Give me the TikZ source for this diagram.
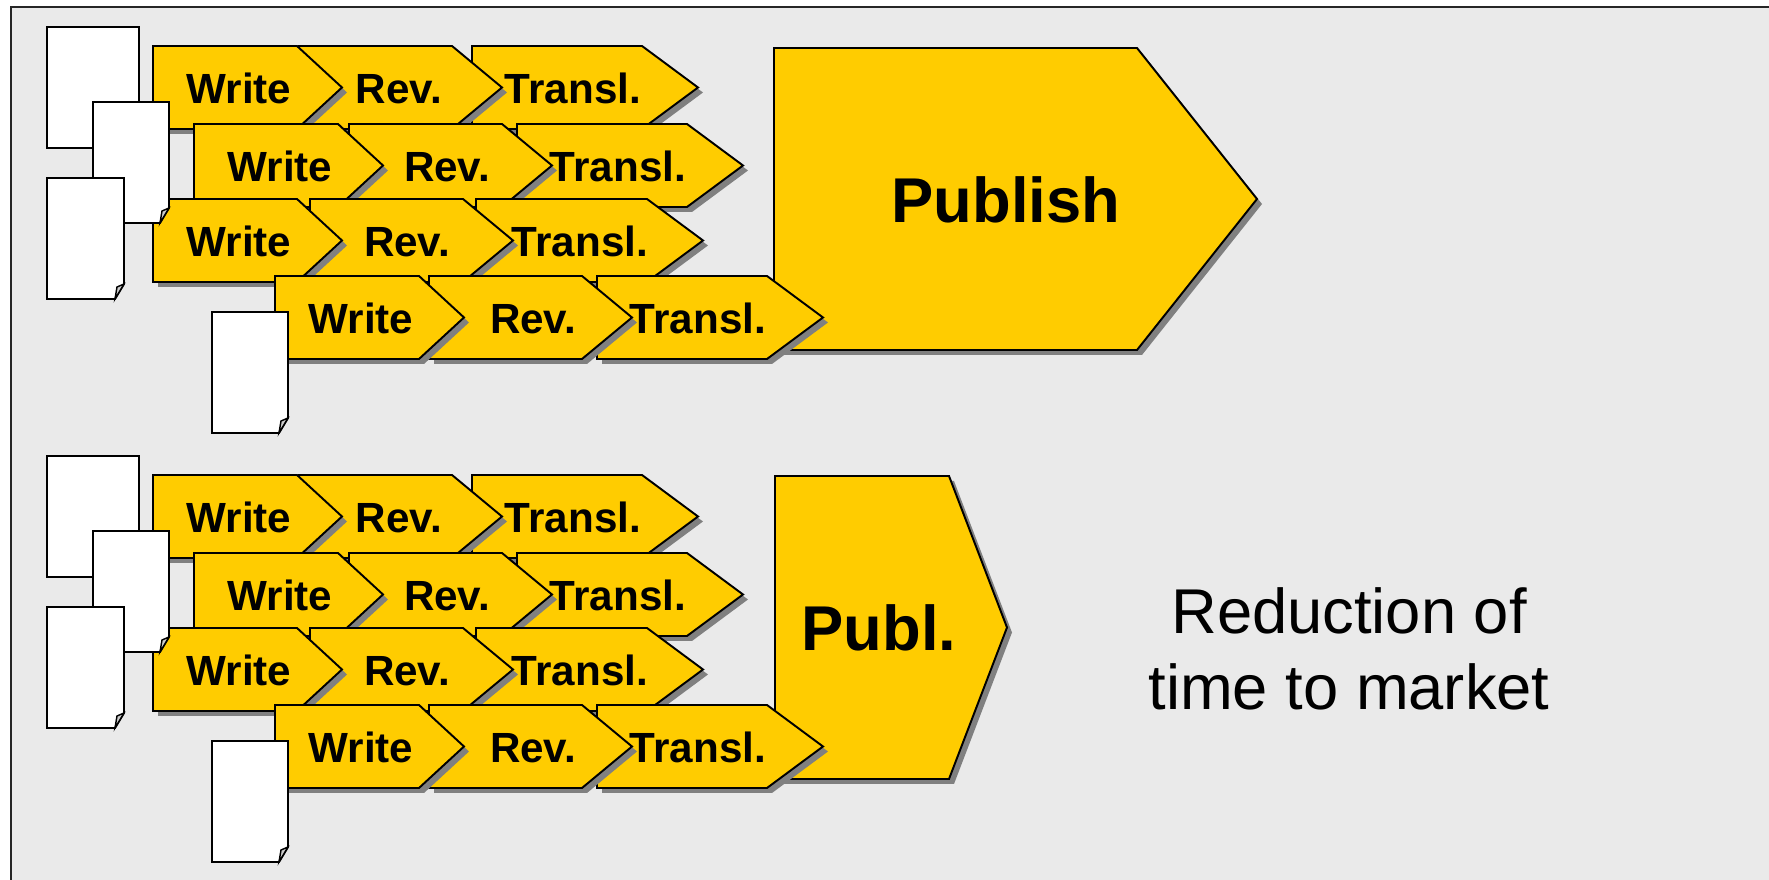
\documentclass[tikz,border=0pt]{standalone}
\usepackage{fontspec}
\setmainfont{Liberation Sans}
\usepackage{tikz}
\definecolor{stepyellow}{HTML}{FFCC00}
\definecolor{shadowgray}{HTML}{808080}
\definecolor{panelgray}{HTML}{EAEAEA}
\tikzstyle{stepfill} = [fill=stepyellow, draw=black, line width=0.55pt, line join=miter]
\tikzstyle{stepshadow} = [fill=shadowgray]
\tikzstyle{steplabel} = [inner sep=0pt, anchor=base, font=\fontsize{12}{14}\selectfont\bfseries]
\tikzstyle{biglabel} = [inner sep=0pt, anchor=base, font=\fontsize{18}{21}\selectfont\bfseries]
\tikzstyle{notelabel} = [inner sep=0pt, anchor=base, font=\fontsize{18}{21}\selectfont]
\tikzstyle{sheetfill} = [fill=white, draw=black, line width=0.55pt, line join=miter]

% name, left, top, width, tip length, text offset, label
\newcommand{\stepbox}[7]{%
  \fill[stepshadow, shift={(5,5)}] (#2,#3) -- ({#2+#4-#5},#3) -- ({#2+#4},{#3+41.5})
    -- ({#2+#4-#5},{#3+83}) -- (#2,{#3+83}) -- cycle;
  \filldraw[stepfill] (#2,#3) -- ({#2+#4-#5},#3) -- ({#2+#4},{#3+41.5})
    -- ({#2+#4-#5},{#3+83}) -- (#2,{#3+83}) -- cycle;
  \node[steplabel] (#1) at ({#2+#6},{#3+58}) {#7};
}
% left, top, width
\newcommand{\sheet}[3]{%
  \filldraw[sheetfill] (#1,#2) -- ({#1+#3},#2) -- ({#1+#3},{#2+106})
    -- ({#1+#3-9},{#2+121}) -- (#1,{#2+121}) -- cycle;
  \filldraw[fill=black!20, draw=black, line width=0.4pt] ({#1+#3-9},{#2+121})
    -- ({#1+#3-7},{#2+109}) -- ({#1+#3},{#2+106}) -- cycle;
}
\newcommand{\pipeline}{%
  % row 1
  \stepbox{t1}{472}{46}{226}{56}{101}{Transl.}
  \stepbox{r1}{299}{46}{203}{50}{100}{Rev.}
  \stepbox{w1}{153}{46}{189}{45}{86}{Write}
  % row 2
  \stepbox{t2}{517}{124}{226}{56}{101}{Transl.}
  \stepbox{r2}{349}{124}{203}{50}{98}{Rev.}
  \stepbox{w2}{194}{124}{189}{45}{86}{Write}
  % row 3
  \stepbox{t3}{476}{199}{227}{56}{104}{Transl.}
  \stepbox{r3}{310}{199}{203}{50}{97}{Rev.}
  \stepbox{w3}{153}{199}{189}{45}{86}{Write}
  % row 4
  \stepbox{t4}{597}{276}{226}{56}{101}{Transl.}
  \stepbox{r4}{429}{276}{203}{50}{104}{Rev.}
  \stepbox{w4}{275}{276}{189}{45}{86}{Write}
  % documents
  \sheet{47}{27}{92}
  \sheet{93}{102}{76}
  \sheet{47}{178}{77}
  \sheet{212}{312}{76}
}

\begin{document}
\begin{tikzpicture}[x=0.01cm, y=-0.01cm]
  \useasboundingbox (0,0) rectangle (1769,880);
  \fill[white] (0,0) rectangle (1769,880);
  \fill[panelgray] (11,7) rectangle (1769,880);
  \draw[black!85, line width=0.4pt] (11,880) -- (11,7) -- (1769,7);

  % long run
  \begin{scope}[name prefix=top-]
    \fill[stepshadow, shift={(5,5)}] (774,48) -- (1137,48) -- (1257,199) -- (1137,350) -- (774,350) -- cycle;
    \filldraw[stepfill] (774,48) -- (1137,48) -- (1257,199) -- (1137,350) -- (774,350) -- cycle;
    \node[biglabel] (publish) at (1006,223) {Publish};
    \pipeline
  \end{scope}

  % short run
  \begin{scope}[name prefix=low-, shift={(0,429)}]
    \fill[stepshadow, shift={(5,5)}] (775,47) -- (949,47) -- (1007,198.5) -- (949,350) -- (775,350) -- cycle;
    \filldraw[stepfill] (775,47) -- (949,47) -- (1007,198.5) -- (949,350) -- (775,350) -- cycle;
    \node[biglabel] (publ) at (879,222) {Publ.};
    \pipeline
  \end{scope}

  \node[notelabel] (reduction) at (1349,634) {Reduction of};
  \node[notelabel] (market) at (1349,710) {time to market};
\end{tikzpicture}
\end{document}
